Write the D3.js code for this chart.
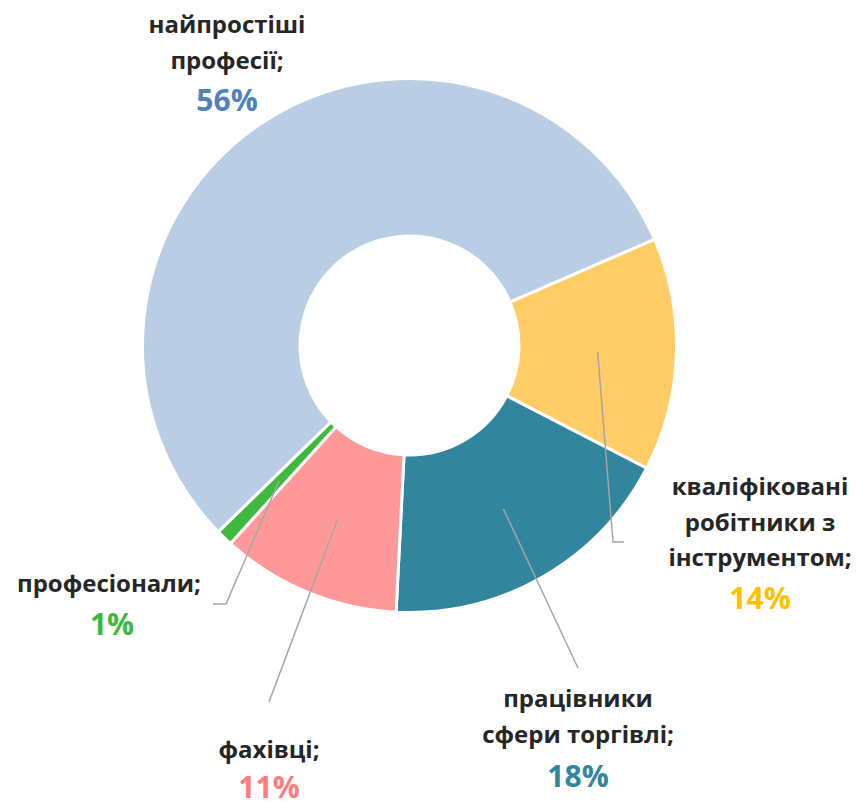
<!DOCTYPE html>
<html lang="uk">
<head>
<meta charset="utf-8">
<title>Donut</title>
<script src="https://cdn.jsdelivr.net/npm/d3@7"></script>
<style>
  body { margin: 0; background: #fff; }
  text { font-family: "Open Sans", "Noto Sans", sans-serif; font-weight: 700; }
</style>
</head>
<body>
<script>
// data (clockwise, starting with the big slice)
var categories = ["найпростіші професії;", "кваліфіковані робітники з інструментом;", "працівники сфери торгівлі;", "фахівці;", "професіонали;"];
var values = [55.8, 14.1, 18.2, 10.9, 1.0];
var sliceColors = ["#b9cde5", "#ffcc66", "#31859c", "#ff9999", "#3dba3d"];
var pctColors = ["#4f81bd", "#ffc000", "#31859c", "#ff7c80", "#3dba3d"];

// label placement (lines split as in the original, anchor = text centre)
var labelLines = [["найпростіші", "професії;"], ["кваліфіковані", "робітники з", "інструментом;"], ["працівники", "сфери торгівлі;"], ["фахівці;"], ["професіонали;"]];
var labelPos = [
  {x: 227, y: 33, pctX: 227, pctY: 111},
  {x: 760, y: 495, pctX: 760, pctY: 609},
  {x: 578, y: 707, pctX: 578, pctY: 787},
  {x: 269, y: 758, pctX: 269, pctY: 798},
  {x: 109, y: 592, pctX: 112, pctY: 635}
];
// leader end points (null = no leader)
var leaderEnds = [null, [[613, 542], [624, 542]], [[578, 668]], [[269, 702]], [[226, 604], [213, 604]]];

var width = 858, height = 806,
    cx = 409.5, cy = 345.5,
    outerR = 267, innerR = 109.5,
    lineH = 35.5;

var svg = d3.select("body").append("svg")
    .attr("width", width)
    .attr("height", height);

var total = d3.sum(values);
var firstAngle = 66.6 * Math.PI / 180 - 2 * Math.PI * values[0] / total;

var pie = d3.pie()
    .sort(null)
    .startAngle(firstAngle)
    .endAngle(firstAngle + 2 * Math.PI);

var arc = d3.arc()
    .innerRadius(innerR)
    .outerRadius(outerR);

var labelArc = d3.arc()
    .innerRadius((innerR + outerR) / 2)
    .outerRadius((innerR + outerR) / 2);

var arcs = pie(values);

var g = svg.append("g")
    .attr("transform", "translate(" + cx + "," + cy + ")");

g.selectAll("path.slice")
    .data(arcs)
    .enter()
    .append("path")
    .attr("class", "slice")
    .attr("d", arc)
    .attr("fill", function(d, i) { return sliceColors[i]; })
    .attr("stroke", "#fff")
    .attr("stroke-width", 3)
    .attr("stroke-linejoin", "miter");

// leader lines from the slice centre to the label
var line = d3.line();
arcs.forEach(function(d, i) {
  if (!leaderEnds[i]) return;
  var c = labelArc.centroid(d);
  var pts = [[c[0] + cx, c[1] + cy]].concat(leaderEnds[i]);
  svg.append("path")
      .attr("d", line(pts))
      .attr("fill", "none")
      .attr("stroke", "#a6a6a6")
      .attr("stroke-width", 1.5);
});

var fmt = d3.format(".0%");

var labels = svg.selectAll("g.label")
    .data(arcs)
    .enter()
    .append("g")
    .attr("class", "label");

labels.each(function(d, i) {
  var sel = d3.select(this);
  labelLines[i].forEach(function(t, j) {
    sel.append("text")
        .attr("x", labelPos[i].x)
        .attr("y", labelPos[i].y + j * lineH)
        .attr("text-anchor", "middle")
        .attr("font-size", 24)
        .attr("fill", "#262626")
        .text(t);
  });
  sel.append("text")
      .attr("x", labelPos[i].pctX)
      .attr("y", labelPos[i].pctY)
      .attr("text-anchor", "middle")
      .attr("font-size", 30)
      .attr("fill", pctColors[i])
      .text(fmt(d.data / total));
});
</script>
</body>
</html>
